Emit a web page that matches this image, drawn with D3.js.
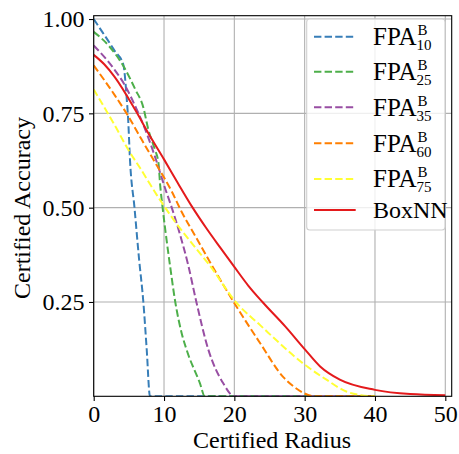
<!DOCTYPE html>
<html>
<head>
<meta charset="utf-8">
<script src="https://cdn.jsdelivr.net/npm/d3@7"></script>
<style>
  body { margin: 0; background: #fff; }
  text { font-family: "Liberation Serif", "Times New Roman", serif; fill: #000; }
</style>
</head>
<body>
<script>
// data (radius -> certified accuracy)
let fpa10R   = [0, 1, 2, 3, 4.2, 4.7, 4.9, 5.16, 5.8, 6.45, 7.06, 7.54, 8, 40];
let fpa10Acc = [1.0, 0.972, 0.944, 0.915, 0.88, 0.788, 0.734, 0.627, 0.5, 0.364, 0.25, 0.124, 0, 0];

let fpa25R   = [0, 2.1, 4.45, 5.9, 7.05, 7.77, 8.7, 9.2, 9.45, 9.8, 10.4, 10.85, 11.6, 12.5, 13.2, 15.1, 15.8, 40];
let fpa25Acc = [0.966, 0.93, 0.868, 0.814, 0.766, 0.707, 0.654, 0.62, 0.56, 0.5, 0.409, 0.347, 0.25, 0.168, 0.124, 0.035, 0, 0];

let fpa35R   = [0, 3.03, 4.45, 6.1, 7.5, 8.7, 10.14, 11.1, 12.3, 13.45, 14.6, 16.3, 18.4, 20, 40];
let fpa35Acc = [0.93, 0.864, 0.824, 0.761, 0.699, 0.636, 0.552, 0.5, 0.427, 0.347, 0.25, 0.124, 0.035, 0, 0];

let fpa60R   = [0, 3.03, 4.9, 6.8, 8.5, 11.1, 12.5, 14.65, 16.8, 19.9, 23.7, 27, 28.5, 31.5, 40];
let fpa60Acc = [0.877, 0.797, 0.743, 0.681, 0.627, 0.543, 0.489, 0.418, 0.347, 0.25, 0.14, 0.05, 0.025, 0, 0];

let fpa75R   = [0, 3.03, 4.9, 6.6, 8.96, 11.56, 14.2, 16.5, 20.2, 23.7, 30, 33.1, 36, 38, 40];
let fpa75Acc = [0.813, 0.717, 0.654, 0.605, 0.534, 0.463, 0.4, 0.347, 0.25, 0.188, 0.084, 0.044, 0.012, 0.003, 0];

let boxR   = [0, 1.5, 3, 6, 8, 10, 12, 14, 16, 18, 20, 22, 24, 27.2, 30, 32.2, 35, 40, 45, 50];
let boxAcc = [0.905, 0.88, 0.846, 0.756, 0.69, 0.628, 0.564, 0.502, 0.446, 0.394, 0.343, 0.293, 0.25, 0.186, 0.125, 0.079, 0.044, 0.017, 0.006, 0.003];

let seriesNames = ["10", "25", "35", "60", "75", "BoxNN"];
let xTicks = [0, 10, 20, 30, 40, 50];
let yTicks = [0.25, 0.5, 0.75, 1.0];

let series = [
  {sub: "10", r: fpa10R, acc: fpa10Acc, color: "#377eb8", dash: true},
  {sub: "25", r: fpa25R, acc: fpa25Acc, color: "#4daf4a", dash: true},
  {sub: "35", r: fpa35R, acc: fpa35Acc, color: "#984ea3", dash: true},
  {sub: "60", r: fpa60R, acc: fpa60Acc, color: "#ff7f00", dash: true},
  {sub: "75", r: fpa75R, acc: fpa75Acc, color: "#ffff33", dash: true},
  {sub: null, r: boxR, acc: boxAcc, color: "#e41a1c", dash: false}
];

let size = {width: 459, height: 454};
let plot = {left: 93.7, right: 451.7, top: 15.7, bottom: 396.3};

let svg = d3.select("body").append("svg")
    .attr("width", size.width).attr("height", size.height);

let x = d3.scaleLinear().domain([0, 50.91]).range([plot.left, plot.right]);
let y = d3.scaleLinear().domain([0, 1.0088]).range([plot.bottom, plot.top]);

svg.append("defs").append("clipPath").attr("id", "clip")
  .append("rect")
    .attr("x", plot.left).attr("y", plot.top)
    .attr("width", plot.right - plot.left).attr("height", plot.bottom - plot.top);

// grid
let grid = svg.append("g");
grid.selectAll(".gx").data(xTicks).join("line")
    .attr("x1", d => x(d)).attr("x2", d => x(d))
    .attr("y1", plot.top).attr("y2", plot.bottom)
    .attr("stroke", "#b0b0b0").attr("stroke-width", 1.1);
grid.selectAll(".gy").data(yTicks).join("line")
    .attr("y1", d => y(d)).attr("y2", d => y(d))
    .attr("x1", plot.left).attr("x2", plot.right)
    .attr("stroke", "#b0b0b0").attr("stroke-width", 1.1);

// curves
let line = d3.line()
    .x(d => x(d[0])).y(d => y(d[1]))
    .curve(d3.curveMonotoneX);

let curves = svg.append("g").attr("clip-path", "url(#clip)");
series.forEach(s => {
  curves.append("path")
    .datum(s.r.map((r, i) => [r, s.acc[i]]))
    .attr("d", line)
    .attr("fill", "none")
    .attr("stroke", s.color)
    .attr("stroke-width", 2)
    .attr("stroke-dasharray", s.dash ? "7.4,3.2" : null);
});

// axes
let xAxis = svg.append("g")
    .attr("transform", `translate(0,${plot.bottom})`)
    .call(d3.axisBottom(x).tickValues(xTicks).tickFormat(d3.format("d"))
      .tickSize(4.7).tickPadding(4));
let yAxis = svg.append("g")
    .attr("transform", `translate(${plot.left},0)`)
    .call(d3.axisLeft(y).tickValues(yTicks).tickFormat(d3.format(".2f"))
      .tickSize(4.7).tickPadding(4.5));
[xAxis, yAxis].forEach(a => {
  a.select(".domain").remove();
  a.selectAll(".tick line").attr("stroke", "#000").attr("stroke-width", 1.1);
  a.selectAll(".tick text")
    .style("font-family", '"Liberation Serif", serif')
    .style("font-size", "24px");
});

// frame
svg.append("rect")
    .attr("x", plot.left).attr("y", plot.top)
    .attr("width", plot.right - plot.left).attr("height", plot.bottom - plot.top)
    .attr("fill", "none").attr("stroke", "#000").attr("stroke-width", 1.1);

// axis labels
svg.append("text")
    .attr("x", 272).attr("y", 448)
    .attr("text-anchor", "middle")
    .style("font-size", "24px")
    .text("Certified Radius");
svg.append("text")
    .attr("transform", `translate(30,${(plot.top + plot.bottom) / 2 + 2}) rotate(-90)`)
    .attr("text-anchor", "middle")
    .style("font-size", "24px")
    .text("Certified Accuracy");

// legend
let legend = svg.append("g");
legend.append("rect")
    .attr("x", 306.7).attr("y", 19).attr("width", 138.3).attr("height", 211)
    .attr("rx", 3)
    .attr("fill", "#fff").attr("fill-opacity", 0.8)
    .attr("stroke", "#d0d0d0").attr("stroke-width", 1.1);

let rowY = [36.7, 71.7, 107.3, 143.3, 179, 210];
series.forEach((s, i) => {
  let g = legend.append("g").attr("transform", `translate(0,${rowY[i]})`);
  g.append("line")
    .attr("x1", 314).attr("x2", 355.7).attr("y1", 0).attr("y2", 0)
    .attr("stroke", s.color).attr("stroke-width", 2)
    .attr("stroke-dasharray", s.dash ? "7.4,3.2" : null);
  if (s.sub) {
    let main = g.append("text").attr("x", 373).attr("y", 8.3)
      .style("font-size", "25px").text("FPA");
    let end = 373 + main.node().getComputedTextLength() + 1;
    g.append("text").attr("x", end).attr("y", -1.7)
      .style("font-size", "15px").text("B");
    g.append("text").attr("x", end - 1).attr("y", 13.3)
      .style("font-size", "15px").text(seriesNames[i]);
  } else {
    g.append("text").attr("x", 373).attr("y", 8.3)
      .style("font-size", "24px").text(seriesNames[i]);
  }
});
</script>
</body>
</html>
